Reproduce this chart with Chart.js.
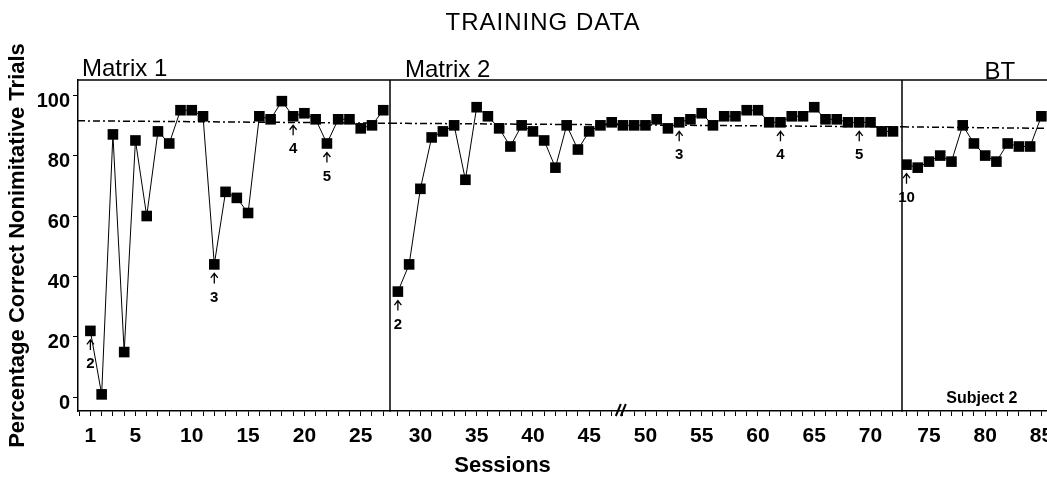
<!DOCTYPE html>
<html>
<head>
<meta charset="utf-8">
<title>Training Data</title>
<script src="https://cdn.jsdelivr.net/npm/chart.js@4.4.1/dist/chart.umd.min.js"></script>
<style>
  html, body { margin: 0; padding: 0; background: #fff; }
</style>
</head>
<body>
<canvas id="chart" width="1047" height="477"></canvas>
<script>
// Sessions and percentage correct for each training phase
const matrix1Sessions = [1, 2, 3, 4, 5, 6, 7, 8, 9, 10, 11, 12, 13, 14, 15, 16, 17, 18, 19, 20, 21, 22, 23, 24, 25, 26, 27];
const matrix1Values = [22, 1, 87, 15, 85, 60, 88, 84, 95, 95, 93, 44, 68, 66, 61, 93, 92, 98, 93, 94, 92, 84, 92, 92, 89, 90, 95];

const matrix2Sessions = [28, 29, 30, 31, 32, 33, 34, 35, 36, 37, 38, 39, 40, 41, 42, 43, 44, 45, 46, 47, 48, 49, 50,
  51, 52, 53, 54, 55, 56, 57, 58, 59, 60, 61, 62, 63, 64, 65, 66, 67, 68, 69, 70, 71, 72];
const matrix2Values = [35, 44, 69, 86, 88, 90, 72, 96, 93, 89, 83, 90, 88, 85, 76, 90, 82, 88, 90, 91, 90, 90, 90,
  92, 89, 91, 92, 94, 90, 93, 93, 95, 95, 91, 91, 93, 93, 96, 92, 92, 91, 91, 91, 88, 88];

const btSessions = [73, 74, 75, 76, 77, 78, 79, 80, 81, 82, 83, 84, 85];
const btValues = [77, 76, 78, 80, 78, 90, 84, 80, 78, 84, 83, 83, 93];

// axis ticks
const yTicks = [0, 20, 40, 60, 80, 100];
const matrix1Labels = [1, 5, 10, 15, 20, 25];
const matrix2Labels = [30, 35, 40, 45, 50, 55, 60, 65, 70];
const btLabels = [75, 80, 85];

// dashed criterion line, level at the phase edges
const criterion = [91.5, 90.7, 89.5, 89];

// numbered arrows under some sessions
const matrix1Arrows = [1, 12, 19, 22];
const matrix1ArrowText = ['2', '3', '4', '5'];
const matrix2Arrows = [28, 53, 62, 69];
const matrix2ArrowText = ['2', '3', '4', '5'];
const btArrows = [73];
const btArrowText = ['10'];

const axisBreak = 47.9;

const m1Range = [-0.1, 27.6];
const m2Range = [27.3, 72.8];
const btRange = [72.6, 85.5];

const FONT = '"Liberation Sans", Arial, Helvetica, sans-serif';

function toPoints(xs, ys) {
    return xs.map((x, i) => ({ x: x, y: ys[i] }));
}

function series(xs, ys, axis) {
    return {
        data: toPoints(xs, ys),
        xAxisID: axis,
        borderColor: '#000',
        backgroundColor: '#000',
        borderWidth: 1,
        pointStyle: 'rect',
        pointRadius: 7.5,
        pointBorderWidth: 0,
        tension: 0
    };
}

function criterionLine(range, from, to, axis) {
    return {
        data: [{ x: range[0], y: from }, { x: range[1], y: to }],
        xAxisID: axis,
        borderColor: '#000',
        borderWidth: 1.5,
        borderDash: [7, 3, 2, 3],
        pointRadius: 0
    };
}

function sessionAxis(range, labels, weight) {
    return {
        type: 'linear',
        position: 'bottom',
        stack: 'sessions',
        stackWeight: weight,
        min: range[0],
        max: range[1],
        afterBuildTicks: function(axis) {
            const ticks = [];
            for (let s = Math.ceil(range[0]); s <= Math.floor(range[1]); s++) ticks.push({ value: s });
            axis.ticks = ticks;
        },
        afterFit: function(axis) {
            axis.height = 66;
            axis.paddingLeft = 0;
            axis.paddingRight = 0;
        },
        grid: { drawOnChartArea: false, drawTicks: true, tickLength: 5, color: '#000', lineWidth: 1 },
        border: { display: true, color: '#000', width: 1.5 },
        ticks: {
            autoSkip: false,
            maxRotation: 0,
            padding: 8,
            color: '#000',
            font: { family: FONT, size: 21, weight: 'bold' },
            callback: function(value) {
                return labels.includes(value) ? String(value) : '';
            }
        }
    };
}

function drawArrows(ctx, xScale, yScale, sessions, values, arrows, texts) {
    arrows.forEach((s, i) => {
        const v = values[sessions.indexOf(s)];
        const x = xScale.getPixelForValue(s);
        const y = yScale.getPixelForValue(v);
        ctx.beginPath();
        ctx.moveTo(x, y + 9);
        ctx.lineTo(x, y + 19);
        ctx.moveTo(x - 3.5, y + 13.5);
        ctx.lineTo(x, y + 9);
        ctx.lineTo(x + 3.5, y + 13.5);
        ctx.stroke();
        ctx.fillText(texts[i], x, y + 33);
    });
}

const decorations = {
    id: 'decorations',
    afterDatasetsDraw(chart) {
        const { ctx, chartArea, scales } = chart;
        ctx.save();
        ctx.strokeStyle = '#000';
        ctx.fillStyle = '#000';

        // frame top and phase separators
        ctx.lineWidth = 1.5;
        ctx.beginPath();
        ctx.moveTo(chartArea.left, chartArea.top);
        ctx.lineTo(chartArea.right, chartArea.top);
        [scales.x2.left, scales.x3.left].forEach(x => {
            ctx.moveTo(x, chartArea.top);
            ctx.lineTo(x, chartArea.bottom);
        });
        ctx.stroke();

        // main title
        ctx.font = '24px ' + FONT;
        ctx.textAlign = 'center';
        ctx.textBaseline = 'middle';
        ctx.letterSpacing = '1px';
        ctx.fillText('TRAINING DATA', 543, 23);
        ctx.letterSpacing = '0px';

        // phase names
        ctx.font = '24px ' + FONT;
        ctx.textAlign = 'left';
        ctx.textBaseline = 'alphabetic';
        ctx.fillText('Matrix 1', chartArea.left + 4, chartArea.top - 4);
        ctx.fillText('Matrix 2', scales.x2.left + 15, chartArea.top - 3);
        ctx.textAlign = 'center';
        ctx.fillText('BT', scales.x3.getPixelForValue(81.3), chartArea.top - 1);

        // subject tag
        ctx.font = 'bold 16px ' + FONT;
        ctx.textBaseline = 'middle';
        ctx.fillText('Subject 2', scales.x3.getPixelForValue(79.7), chartArea.bottom - 12);

        // x axis title
        ctx.font = 'bold 22px ' + FONT;
        ctx.fillText('Sessions', scales.x2.getPixelForValue(37.3), 466);

        // numbered arrows
        ctx.lineWidth = 1.3;
        ctx.font = 'bold 15px ' + FONT;
        drawArrows(ctx, scales.x1, scales.y, matrix1Sessions, matrix1Values, matrix1Arrows, matrix1ArrowText);
        drawArrows(ctx, scales.x2, scales.y, matrix2Sessions, matrix2Values, matrix2Arrows, matrix2ArrowText);
        drawArrows(ctx, scales.x3, scales.y, btSessions, btValues, btArrows, btArrowText);

        // axis break mark
        const bx = scales.x2.getPixelForValue(axisBreak);
        const by = chartArea.bottom;
        ctx.lineWidth = 2;
        ctx.beginPath();
        ctx.moveTo(bx - 6, by + 5);
        ctx.lineTo(bx - 1, by - 7);
        ctx.moveTo(bx - 1, by + 5);
        ctx.lineTo(bx + 4, by - 7);
        ctx.stroke();
        ctx.restore();
    }
};

new Chart(document.getElementById('chart'), {
    type: 'line',
    data: {
        datasets: [
            series(matrix1Sessions, matrix1Values, 'x1'),
            series(matrix2Sessions, matrix2Values, 'x2'),
            series(btSessions, btValues, 'x3'),
            criterionLine(m1Range, criterion[0], criterion[1], 'x1'),
            criterionLine(m2Range, criterion[1], criterion[2], 'x2'),
            criterionLine(btRange, criterion[2], criterion[3], 'x3')
        ]
    },
    options: {
        responsive: false,
        animation: false,
        devicePixelRatio: 1,
        layout: { autoPadding: false, padding: { left: 0, right: 0, top: 80, bottom: 0 } },
        plugins: {
            legend: { display: false },
            tooltip: { enabled: false },
            title: { display: false }
        },
        scales: {
            x1: sessionAxis(m1Range, matrix1Labels, 312),
            x2: sessionAxis(m2Range, matrix2Labels, 512),
            x3: sessionAxis(btRange, btLabels, 145),
            y: {
                type: 'linear',
                position: 'left',
                min: -4.5,
                max: 105,
                afterBuildTicks: function(axis) {
                    axis.ticks = yTicks.map(v => ({ value: v }));
                },
                afterFit: function(axis) {
                    axis.width = 78;
                    axis.paddingTop = 0;
                    axis.paddingBottom = 0;
                },
                grid: { drawOnChartArea: false, drawTicks: true, tickLength: 5, color: '#000' },
                border: { display: true, color: '#000', width: 1.5 },
                ticks: {
                    padding: 3,
                    labelOffset: 6,
                    color: '#000',
                    font: { family: FONT, size: 20, weight: 'bold' }
                },
                title: {
                    display: true,
                    text: 'Percentage Correct Nonimitative Trials',
                    color: '#000',
                    font: { family: FONT, size: 22, weight: 'bold' },
                    padding: { top: 5, bottom: 0 }
                }
            }
        }
    },
    plugins: [decorations]
});
</script>
</body>
</html>
